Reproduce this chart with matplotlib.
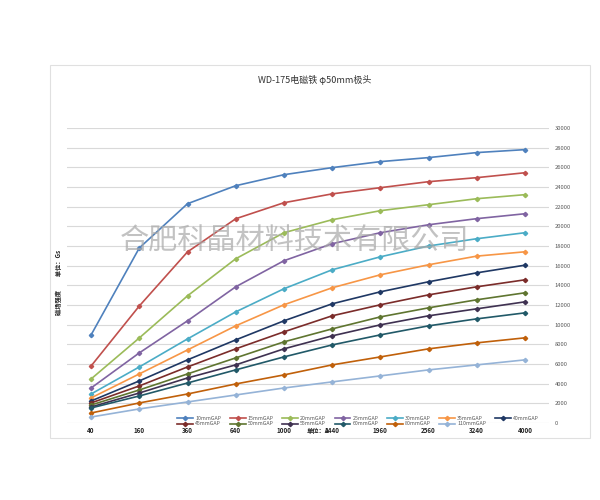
import matplotlib
matplotlib.use("Agg")
import matplotlib.pyplot as plt
from matplotlib.patches import Rectangle

plt.rcParams['font.family'] = ['Noto Sans CJK SC', 'DejaVu Sans']

currents = ["40", "160", "360", "640", "1000", "1440", "1960", "2560", "3240", "4000"]

g10 = [8960, 17800, 22300, 24130, 25250, 25970, 26580, 26990, 27500, 27800]
g15 = [5800, 11900, 17400, 20770, 22400, 23300, 23930, 24540, 24950, 25450]
g20 = [4480, 8650, 12930, 16700, 19350, 20670, 21590, 22200, 22810, 23220]
g25 = [3560, 7130, 10390, 13850, 16500, 18230, 19350, 20160, 20780, 21280]
g30 = [2950, 5700, 8550, 11300, 13650, 15580, 16900, 18000, 18740, 19350]
g35 = [2550, 4990, 7430, 9880, 12020, 13750, 15070, 16090, 16970, 17410]
g40 = [2240, 4280, 6420, 8450, 10390, 12120, 13340, 14360, 15270, 16050]
g45 = [2040, 3770, 5700, 7540, 9270, 10900, 12020, 13030, 13850, 14560]
g50 = [1830, 3360, 4990, 6620, 8250, 9570, 10790, 11710, 12530, 13240]
g55 = [1630, 3050, 4580, 5910, 7540, 8860, 9980, 10900, 11610, 12320]
g60 = [1530, 2750, 4070, 5400, 6720, 7940, 8960, 9880, 10590, 11200]
g80 = [1020, 2040, 2950, 3970, 4890, 5910, 6720, 7540, 8150, 8660]
g110 = [610, 1430, 2140, 2850, 3560, 4180, 4790, 5400, 5910, 6420]

series_names = ["10mmGAP", "15mmGAP", "20mmGAP", "25mmGAP", "30mmGAP", "35mmGAP", "40mmGAP",
                "45mmGAP", "50mmGAP", "55mmGAP", "60mmGAP", "80mmGAP", "110mmGAP"]
series_values = [g10, g15, g20, g25, g30, g35, g40, g45, g50, g55, g60, g80, g110]
colors = ["#4F81BD", "#C0504D", "#9BBB59", "#8064A2", "#4BACC6", "#F79646", "#1F3864",
          "#7B2C2A", "#5F7530", "#3F3151", "#215968", "#C0600A", "#95B3D7"]

fig = plt.figure(figsize=(6, 5), dpi=100)
fig.patch.set_facecolor("white")

# chart border
fig.add_artist(Rectangle((50 / 600, 1 - 438 / 500), 540 / 600, 373 / 500,
                         transform=fig.transFigure, fill=False, edgecolor="#E0E0E0", lw=0.8))

ax = fig.add_axes([67 / 600, 1 - 423 / 500, 482 / 600, 295 / 500])
x = list(range(len(currents)))
lines = []
for name, vals, c in zip(series_names, series_values, colors):
    ln, = ax.plot(x, vals, color=c, lw=1.2, marker="D", markersize=2.2, label=name, zorder=3)
    lines.append(ln)

ax.set_xlim(-0.5, len(currents) - 0.5)
ax.set_ylim(0, 30000)
ax.set_yticks(range(0, 30001, 2000))
ax.yaxis.tick_right()
ax.set_xticks(x)
ax.set_xticklabels(currents, fontsize=4.5, fontweight="bold", color="#222222")
ax.tick_params(axis="y", labelsize=4.2, labelcolor="#595959", length=0, pad=4)
ax.tick_params(axis="x", length=0, pad=3)
for lab in ax.get_yticklabels():
    lab.set_horizontalalignment("left")
ax.grid(axis="y", color="#D9D9D9", lw=0.8, zorder=0)
for s in ax.spines.values():
    s.set_visible(False)

# row-wise legend order (matplotlib fills columns first)
order = [0, 7, 1, 8, 2, 9, 3, 10, 4, 11, 5, 12, 6]
ax.legend(handles=[lines[i] for i in order], ncol=7, loc="center",
          bbox_to_anchor=(358 / 600, 1 - 421 / 500),
          bbox_transform=fig.transFigure, frameon=False, fontsize=3.8, handlelength=3.0,
          columnspacing=1.6, handletextpad=0.4, labelspacing=0.15, labelcolor="#595959")

fig.text(315 / 600, 1 - 80 / 500, "WD-175电磁铁 φ50mm极头", ha="center", va="center",
         fontsize=6.5, color="#333333")
fig.text(318 / 600, 1 - 431 / 500, "单位：A", ha="center", va="center",
         fontsize=4.5, fontweight="bold", color="#222222")
fig.text(59 / 600, 1 - 282 / 500, "磁场强度          单位：Gs", ha="center", va="center",
         rotation=90, fontsize=4.5, fontweight="bold", color="#222222")
fig.text(295 / 600, 1 - 242 / 500, "合肥科晶材料技术有限公司", ha="center", va="center",
         fontsize=21, color="#a8a8a8", alpha=0.7, fontweight="light", zorder=10)

fig.savefig("out.png", dpi=100)
